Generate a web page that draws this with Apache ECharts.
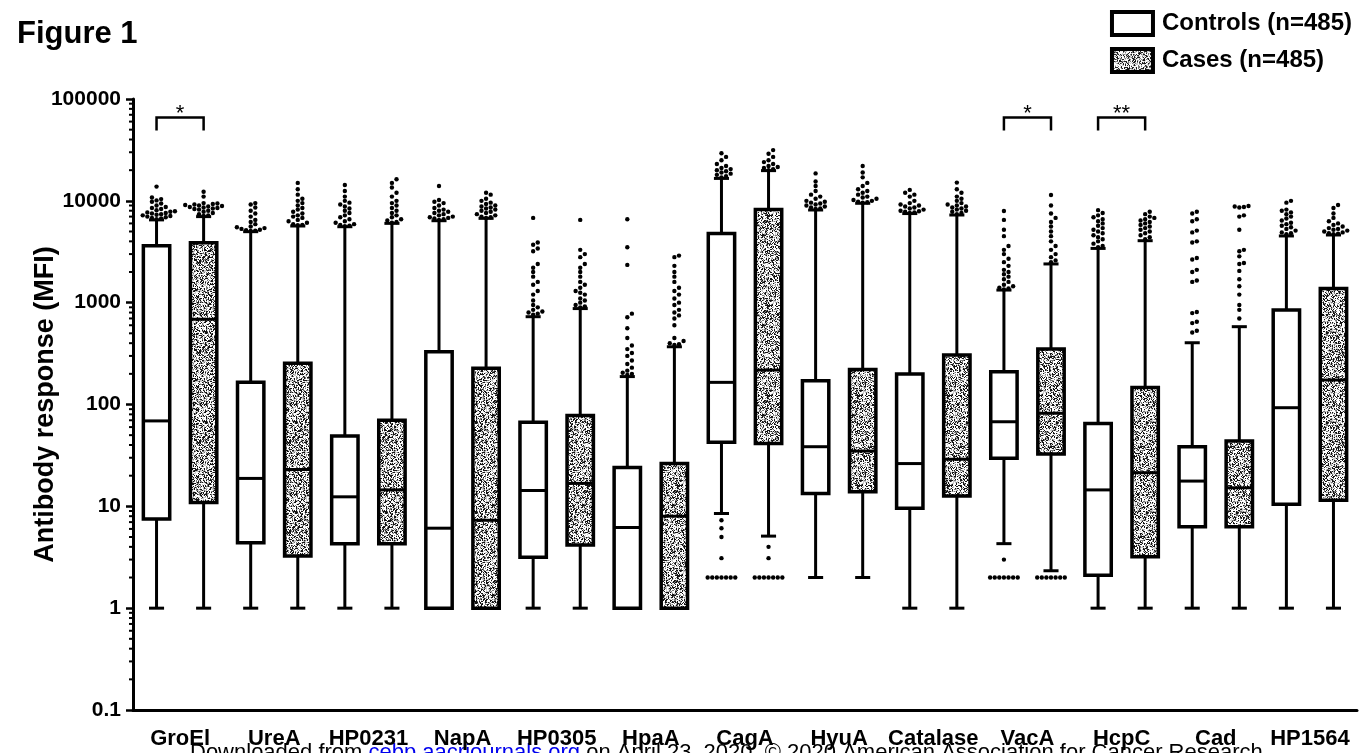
<!DOCTYPE html>
<html>
<head>
<meta charset="utf-8">
<script src="https://cdn.jsdelivr.net/npm/echarts@6.0.0/dist/echarts.min.js"></script>
<style>
  html, body { margin: 0; padding: 0; background: #fff; }
  #chart { width: 1359px; height: 753px; }
</style>
</head>
<body>
<div id="chart"></div>
<script>
// antigens on the x axis
const antigens = ['GroEl', 'UreA', 'HP0231', 'NapA', 'HP0305', 'HpaA', 'CagA',
  'HyuA', 'Catalase', 'VacA', 'HcpC', 'Cad', 'HP1564'];

// [whisker low, Q1, median, Q3, whisker high] per antigen (MFI)
const controlsBox = [
  [1, 7.5, 69, 3630, 6500],
  [1, 4.4, 18.8, 165, 4980],
  [1, 4.3, 12.4, 49, 5570],
  [1, 1, 6.1, 330, 6380],
  [1, 3.16, 14.3, 67, 728],
  [1, 1, 6.2, 24, 188],
  [8.5, 42.5, 165, 4790, 16600],
  [2, 13.4, 38.5, 171, 8130],
  [1, 9.6, 26.3, 199, 7500],
  [4.3, 29.6, 67.7, 210, 1330],
  [1, 2.1, 14.5, 65, 3410],
  [1, 6.3, 17.7, 38.5, 404],
  [1, 10.5, 93, 848, 4520]
];
const casesBox = [
  [1, 10.9, 687, 3880, 7000],
  [1, 3.25, 23, 254, 5660],
  [1, 4.3, 14.5, 70, 6010],
  [1, 1, 7.3, 227, 6730],
  [1, 4.17, 16.8, 78, 875],
  [1, 1, 8.0, 26.3, 369],
  [5.1, 41.5, 218, 8240, 19800],
  [2, 13.9, 34.9, 221, 9460],
  [1, 12.6, 29, 306, 7260],
  [2.33, 32.6, 82, 351, 2400],
  [1, 3.2, 21.4, 147, 4060],
  [1, 6.3, 15.2, 43.8, 581],
  [1, 11.5, 174, 1380, 4620]
];

// outliers beyond the whiskers
const controlsOut = [
  [13800, 10800, 10400, 10100, 9800, 9400, 9000, 8700, 8500, 8300, 8100, 7900, 7800, 7700, 7600, 7500, 7400, 7300, 7200, 7100, 7000, 6900, 6800, 6700, 6600],
  [9500, 9200, 8600, 8000, 7500, 7000, 6500, 6200, 5900, 5600, 5500, 5400, 5300, 5200, 5150, 5100, 5050],
  [14300, 12500, 11000, 10000, 9600, 9200, 8800, 8400, 8000, 7600, 7200, 6900, 6600, 6300, 6100, 5900, 5800, 5700, 5650],
  [14000, 10200, 9800, 9500, 9000, 8500, 8200, 8000, 7800, 7600, 7400, 7200, 7000, 6900, 6800, 6700, 6600, 6500],
  [6800, 3900, 3700, 3400, 3200, 2400, 2200, 2000, 1800, 1600, 1500, 1300, 1200, 1050, 950, 900, 850, 820, 800, 780, 760],
  [6600, 3500, 2350, 780, 720, 560, 450, 380, 350, 320, 300, 270, 250, 230, 215, 205, 200, 195],
  [29300, 27000, 25000, 23000, 22000, 21000, 20500, 20000, 19500, 19000, 18500, 18000, 17500, 17000, 7.3, 6.1, 5.0, 3.1, 2, 2, 2, 2, 2, 2, 2],
  [18600, 15500, 14000, 12500, 11500, 11000, 10500, 10000, 9800, 9600, 9400, 9200, 9000, 8800, 8600, 8400, 8300],
  [12800, 12000, 11500, 11000, 10000, 9500, 9200, 9000, 8800, 8600, 8400, 8200, 8000, 7900, 7800, 7700, 7600],
  [7950, 6500, 5200, 4500, 3600, 3300, 3000, 2700, 2500, 2300, 2100, 2000, 1900, 1800, 1700, 1600, 1500, 1450, 1400, 1380, 1350, 3.0, 2, 2, 2, 2, 2, 2, 2],
  [8100, 7600, 7200, 6900, 6600, 6300, 6000, 5700, 5400, 5200, 5000, 4800, 4600, 4400, 4200, 4000, 3800, 3600, 3500],
  [7800, 7500, 6600, 6300, 5100, 4900, 4000, 3900, 2750, 2650, 2100, 2000, 1650, 1600, 810, 790, 650, 630, 530, 510],
  [10000, 9600, 8200, 8000, 7700, 7400, 7000, 6700, 6400, 6100, 5900, 5700, 5500, 5300, 5100, 4900, 4800, 4700]
];
const casesOut = [
  [12300, 11000, 9500, 9400, 9300, 9200, 9100, 9000, 8900, 8800, 8700, 8600, 8500, 8400, 8300, 8200, 8000, 7800, 7600, 7400, 7200, 7100],
  [15000, 13000, 11500, 10500, 10000, 9500, 9000, 8500, 8200, 7800, 7500, 7200, 7000, 6800, 6500, 6300, 6100, 5900, 5800, 5750],
  [16300, 15000, 13500, 12000, 11000, 10000, 9500, 9000, 8500, 8000, 7600, 7200, 6900, 6600, 6400, 6200, 6100],
  [12000, 11500, 10500, 10000, 9600, 9300, 9000, 8800, 8600, 8400, 8200, 8000, 7800, 7600, 7400, 7200, 7000, 6900, 6800],
  [6500, 3300, 3000, 2800, 2400, 2200, 2000, 1800, 1600, 1500, 1400, 1300, 1250, 1200, 1100, 1050, 1000, 950, 920, 900],
  [2900, 2800, 2300, 2000, 1800, 1600, 1400, 1300, 1200, 1100, 1000, 950, 850, 800, 750, 700, 600, 450, 420, 400, 390, 385],
  [31500, 29000, 27000, 25000, 24000, 23000, 22000, 21500, 21000, 20500, 20000, 4.0, 3.1, 2, 2, 2, 2, 2, 2, 2],
  [22000, 19000, 17000, 15000, 14000, 13000, 12500, 12000, 11500, 11000, 10800, 10500, 10200, 10000, 9800, 9700, 9600],
  [15100, 13000, 12000, 11000, 10500, 10000, 9500, 9200, 9000, 8800, 8600, 8400, 8200, 8000, 7800, 7600, 7400],
  [11400, 9000, 7500, 6800, 6200, 5600, 5000, 4500, 4000, 3600, 3300, 3000, 2800, 2600, 2500, 2, 2, 2, 2, 2, 2, 2],
  [7800, 7400, 7000, 6800, 6600, 6400, 6200, 6000, 5800, 5600, 5400, 5200, 5000, 4800, 4600, 4400, 4200],
  [8900, 8800, 8700, 8600, 7200, 7000, 5200, 3300, 3200, 2850, 2450, 2400, 2050, 1700, 1450, 1200, 950, 850, 700],
  [9100, 8500, 7500, 6800, 6300, 6000, 5800, 5600, 5400, 5300, 5200, 5100, 5000, 4900, 4800, 4750, 4700]
];

// significance brackets
const sigAntigens = ['GroEl', 'VacA', 'HcpC'];
const sigMarks = ['*', '*', '**'];
const bracketLevel = 66000;

const FONT = 'Liberation Sans, Arial, sans-serif';

// grey stipple texture for the cases boxes
function makeStipple() {
  const size = 90;
  const c = document.createElement('canvas');
  c.width = c.height = size;
  const ctx = c.getContext('2d');
  const img = ctx.createImageData(size, size);
  let s = 20200423;
  for (let p = 0; p < size * size; p++) {
    s = (s * 1103515245 + 12345) & 0x7fffffff;
    const r = s / 0x7fffffff;
    const g = r < 0.27 ? 20 : r < 0.42 ? 120 : r < 0.58 ? 200 : 255;
    img.data[p * 4] = img.data[p * 4 + 1] = img.data[p * 4 + 2] = g;
    img.data[p * 4 + 3] = 255;
  }
  ctx.putImageData(img, 0, 0);
  return c;
}
const stipple = { image: makeStipple(), repeat: 'repeat' };

function boxRenderer(stats, outs, side, fill) {
  return function (params, api) {
    const i = api.value(0);
    const band = api.size([1, 0])[0];
    const x = api.coord([i, 1])[0] + side * band * 0.25;
    const w = band * 0.28;
    const cap = band * 0.16;
    const st = stats[params.dataIndex];
    const y = st.map(v => api.coord([i, v])[1]);
    const ls = { stroke: '#000', lineWidth: 3, fill: null };
    const children = [
      { type: 'line', shape: { x1: x, y1: y[0], x2: x, y2: y[1] }, style: ls },
      { type: 'line', shape: { x1: x, y1: y[3], x2: x, y2: y[4] }, style: ls },
      { type: 'line', shape: { x1: x - cap / 2, y1: y[0], x2: x + cap / 2, y2: y[0] }, style: ls },
      { type: 'line', shape: { x1: x - cap / 2, y1: y[4], x2: x + cap / 2, y2: y[4] }, style: ls },
      { type: 'rect', shape: { x: x - w / 2, y: y[3], width: w, height: y[1] - y[3] },
        style: { fill: fill, stroke: '#000', lineWidth: 3.5 } },
      { type: 'line', shape: { x1: x - w / 2, y1: y[2], x2: x + w / 2, y2: y[2] }, style: ls }
    ];
    // simple beeswarm for outlier dots
    const r = 2.2, d = 2 * r + 0.2;
    const pts = outs[params.dataIndex].map(v => api.coord([i, v])[1])
      .sort((a, b) => Math.abs(a - y[2]) - Math.abs(b - y[2]));
    const placed = [];
    pts.forEach(py => {
      for (let k = 0; k < 40; k++) {
        const dx = (k % 2 ? 1 : -1) * Math.ceil(k / 2) * d;
        const ok = placed.every(q => (q[0] - dx) ** 2 + (q[1] - py) ** 2 >= d * d * 0.8);
        if (ok) { placed.push([dx, py]); break; }
      }
    });
    placed.forEach(q => children.push({
      type: 'circle', shape: { cx: x + q[0], cy: q[1], r: r }, style: { fill: '#000' }
    }));
    return { type: 'group', children: children };
  };
}

// log-spaced minor ticks (2..9 of every decade)
const minorTicks = [];
for (let e = -1; e < 5; e++) {
  for (let m = 2; m <= 9; m++) minorTicks.push([0, m * Math.pow(10, e)]);
}

const chart = echarts.init(document.getElementById('chart'), null, { renderer: 'canvas' });
chart.setOption({
  animation: false,
  backgroundColor: '#fff',
  title: {
    text: 'Figure 1', left: 12, top: 14,
    textStyle: { fontFamily: FONT, fontSize: 31, fontWeight: 'bold', color: '#000' }
  },
  legend: {
    orient: 'vertical', right: 2, top: 5,
    itemWidth: 41, itemHeight: 23, itemGap: 10,
    data: [{ name: 'Controls (n=485)', icon: 'rect' }, { name: 'Cases (n=485)', icon: 'rect' }],
    itemStyle: { borderColor: '#000', borderWidth: 4 },
    textStyle: { fontFamily: FONT, fontSize: 24, fontWeight: 'bold', color: '#000', padding: [0, 0, 0, 4] }
  },
  grid: { left: 133, right: 2, top: 99, bottom: 43, outerBoundsMode: 'none' },
  xAxis: {
    type: 'category', data: antigens, boundaryGap: true,
    axisLine: { lineStyle: { color: '#000', width: 3 } },
    axisTick: { show: false },
    axisLabel: { color: '#000', fontFamily: FONT, fontSize: 22, fontWeight: 'bold', margin: 18, interval: 0 },
    splitLine: { show: false }
  },
  yAxis: {
    type: 'log', logBase: 10, min: 0.1, max: 100000, splitNumber: 6,
    name: 'Antibody response (MFI)', nameLocation: 'middle', nameGap: 74, nameMoveOverlap: false,
    nameTextStyle: { color: '#000', fontFamily: FONT, fontSize: 27, fontWeight: 'bold' },
    axisLine: { show: true, lineStyle: { color: '#000', width: 3 } },
    axisTick: { show: true, length: 7, lineStyle: { color: '#000', width: 2.5 } },
    axisLabel: {
      color: '#000', fontFamily: FONT, fontSize: 21, fontWeight: 'bold', margin: 12,
      formatter: v => String(+(+v).toPrecision(6))
    },
    splitLine: { show: false }
  },
  series: [
    {
      name: 'Controls (n=485)', type: 'custom', silent: true,
      itemStyle: { color: '#fff' },
      encode: { x: 0, y: [1, 2, 3, 4, 5] },
      data: antigens.map((a, i) => [i].concat(controlsBox[i])),
      renderItem: boxRenderer(controlsBox, controlsOut, -1, '#fff')
    },
    {
      name: 'Cases (n=485)', type: 'custom', silent: true,
      itemStyle: { color: stipple },
      encode: { x: 0, y: [1, 2, 3, 4, 5] },
      data: antigens.map((a, i) => [i].concat(casesBox[i])),
      renderItem: boxRenderer(casesBox, casesOut, 1, stipple)
    },
    {
      type: 'custom', silent: true,
      data: sigAntigens.map(a => [antigens.indexOf(a), bracketLevel]),
      renderItem: function (params, api) {
        const band = api.size([1, 0])[0];
        const p = api.coord([api.value(0), api.value(1)]);
        const x1 = p[0] - band * 0.25, x2 = p[0] + band * 0.25, y = p[1];
        return {
          type: 'group', children: [
            { type: 'polyline', shape: { points: [[x1, y + 13], [x1, y], [x2, y], [x2, y + 13]] },
              style: { stroke: '#000', lineWidth: 2.5, fill: null } },
            { type: 'text', x: p[0], y: y - 3,
              style: { text: sigMarks[params.dataIndex], font: '22px ' + FONT, fill: '#000',
                align: 'center', verticalAlign: 'middle' } }
          ]
        };
      }
    },
    {
      type: 'custom', silent: true,
      data: minorTicks,
      renderItem: function (params, api) {
        const p = api.coord([0, api.value(1)]);
        const x0 = params.coordSys.x;
        return { type: 'line', shape: { x1: x0 - 4, y1: p[1], x2: x0, y2: p[1] },
          style: { stroke: '#000', lineWidth: 2 } };
      }
    }
  ],
  graphic: [{
    type: 'text', left: 190, top: 742, silent: true,
    style: {
      text: 'Downloaded from {a|cebp.aacrjournals.org} on April 23, 2020. © 2020 American Association for Cancer Research.',
      font: '22px ' + FONT, fill: '#000',
      rich: { a: { fill: '#0000ee', font: '22px ' + FONT } }
    }
  }]
});
</script>
</body>
</html>
